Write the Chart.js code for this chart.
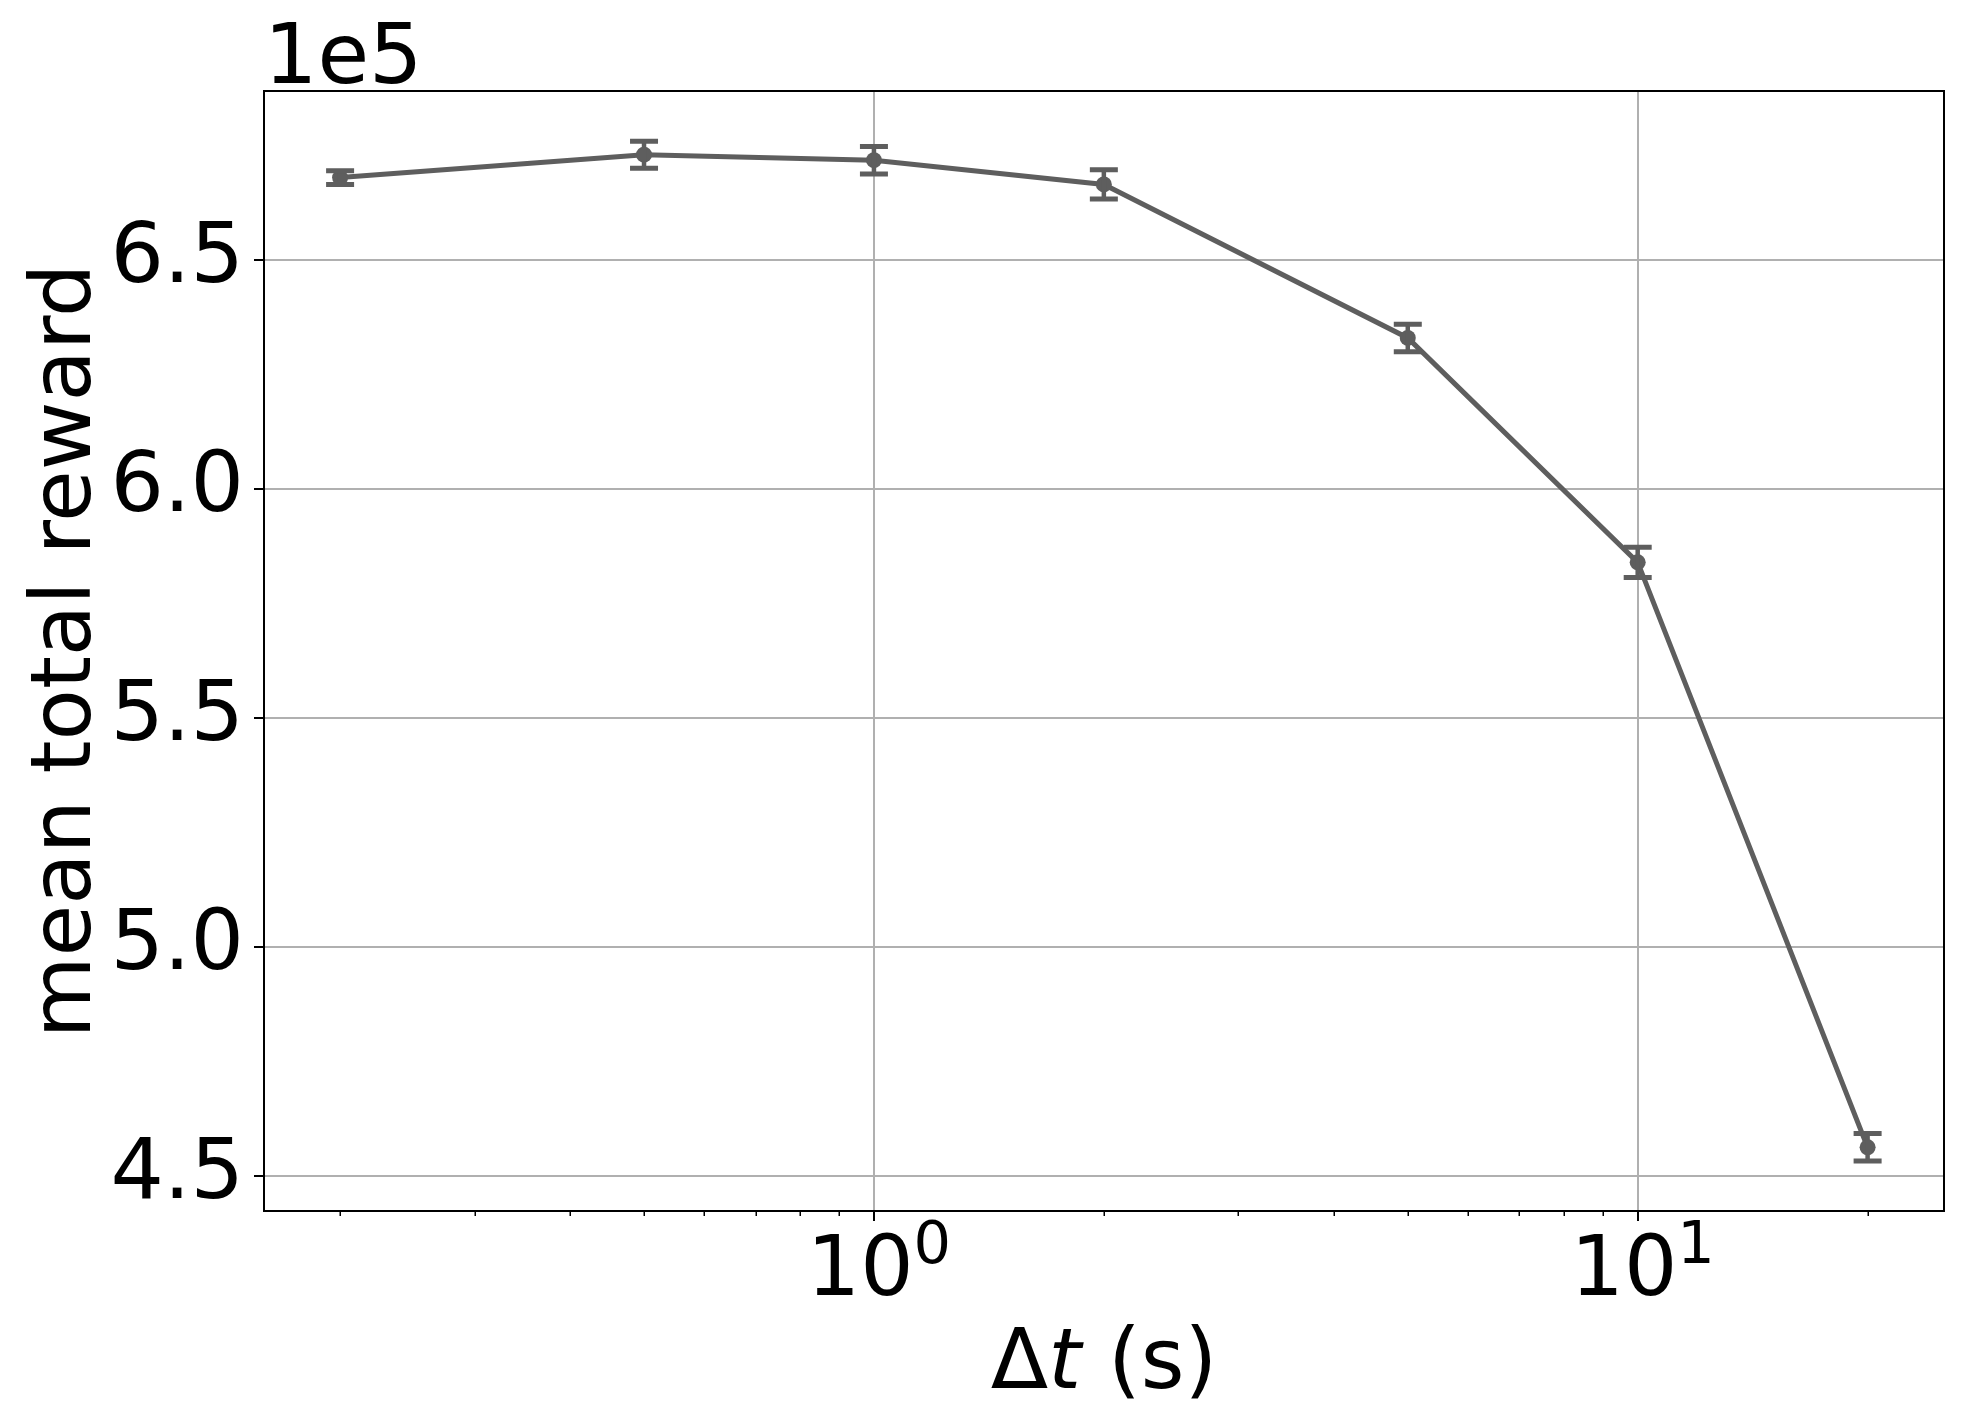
<!DOCTYPE html>
<html><head><meta charset="utf-8">
<script src="https://cdn.jsdelivr.net/npm/chart.js@4.4.1/dist/chart.umd.min.js"></script>
<style>html,body{margin:0;padding:0;background:#fff;} #wrap{width:1964px;height:1425px;position:relative;}</style>
</head><body><div id="wrap"><canvas id="c"></canvas></div>
<script>
// ---- data ----
const dtValues = [0.2, 0.5, 1, 2, 5, 10, 20];
const meanReward = [668000, 673000, 671800, 666500, 633000, 584000, 456300];
const rewardErr = [1500, 2950, 3000, 3200, 3000, 3300, 3000];
const yTickValues = [450000, 500000, 550000, 600000, 650000];
const xMajorTicks = [1, 10];
const xMajorBase = ['10', '10'];
const xMajorExp = ['0', '1'];
const xMinorTicks = [0.2,0.3,0.4,0.5,0.6,0.7,0.8,0.9,2,3,4,5,6,7,8,9,20];
const yOffsetText = '1e5';
const yTitle = 'mean total reward';
const xTitleParts = [['Δ', false], ['t', true], [' (s)', false]];

const FONT = 'DejaVu Sans';
const LINE = '#5e5e5e';
const FS = 84;

const textPlugin = {
  id: 'extras',
  afterDatasetsDraw(chart) {
    const {ctx, scales: {x, y}} = chart;
    ctx.save();
    ctx.strokeStyle = LINE;
    ctx.lineCap = 'butt';
    for (let i = 0; i < dtValues.length; i++) {
      const px = x.getPixelForValue(dtValues[i]);
      const t = y.getPixelForValue(meanReward[i] + rewardErr[i]);
      const b = y.getPixelForValue(meanReward[i] - rewardErr[i]);
      ctx.lineWidth = 4.5;
      ctx.beginPath();
      ctx.moveTo(px, t); ctx.lineTo(px, b);
      ctx.stroke();
      ctx.lineWidth = 5;
      ctx.beginPath();
      ctx.moveTo(px - 14, t); ctx.lineTo(px + 14, t);
      ctx.moveTo(px - 14, b); ctx.lineTo(px + 14, b);
      ctx.stroke();
    }
    ctx.restore();
  },
  afterDraw(chart) {
    const {ctx, chartArea: a, scales: {x}} = chart;
    ctx.save();
    // frame
    ctx.strokeStyle = '#000';
    ctx.lineWidth = 2;
    ctx.strokeRect(a.left, a.top, a.right - a.left, a.bottom - a.top);
    // minor ticks
    ctx.lineWidth = 1.5;
    ctx.beginPath();
    xMinorTicks.forEach(v => {
      const px = Math.round(x.getPixelForValue(v)) + 0.25;
      ctx.moveTo(px, a.bottom); ctx.lineTo(px, a.bottom + 5);
    });
    ctx.stroke();
    ctx.fillStyle = '#000';
    // x tick labels with superscripts
    xMajorTicks.forEach((v, i) => {
      const px = x.getPixelForValue(v);
      ctx.font = FS + 'px "' + FONT + '"';
      const w1 = ctx.measureText(xMajorBase[i]).width;
      ctx.font = Math.round(FS * 0.7) + 'px "' + FONT + '"';
      const w2 = ctx.measureText(xMajorExp[i]).width;
      const start = px - (w1 + w2) / 2 + 5;
      ctx.textAlign = 'left';
      ctx.textBaseline = 'alphabetic';
      ctx.font = FS + 'px "' + FONT + '"';
      ctx.fillText(xMajorBase[i], start, a.bottom + 84);
      ctx.font = Math.round(FS * 0.7) + 'px "' + FONT + '"';
      ctx.fillText(xMajorExp[i], start + w1, a.bottom + 52);
    });
    // x title
    let total = 0;
    const widths = xTitleParts.map(([s, it]) => {
      ctx.font = (it ? 'italic ' : '') + FS + 'px "' + FONT + '"';
      const w = ctx.measureText(s).width; total += w; return w;
    });
    let cx = (a.left + a.right) / 2 - total / 2;
    xTitleParts.forEach(([s, it], i) => {
      ctx.font = (it ? 'italic ' : '') + FS + 'px "' + FONT + '"';
      ctx.fillText(s, cx, a.bottom + 177);
      cx += widths[i];
    });
    // offset text
    ctx.font = FS + 'px "' + FONT + '"';
    ctx.fillText(yOffsetText, a.left, a.top - 8);
    // y title
    ctx.translate(90, (a.top + a.bottom) / 2);
    ctx.rotate(-Math.PI / 2);
    ctx.textAlign = 'center';
    ctx.fillText(yTitle, 0, 0);
    ctx.restore();
  }
};

new Chart(document.getElementById('c'), {
  type: 'line',
  data: {
    datasets: [{
      data: dtValues.map((v, i) => ({x: v, y: meanReward[i]})),
      borderColor: LINE,
      backgroundColor: LINE,
      borderWidth: 5,
      pointRadius: 8,
      pointBorderWidth: 0,
      pointBackgroundColor: LINE,
      tension: 0
    }]
  },
  options: {
    responsive: true,
    maintainAspectRatio: false,
    devicePixelRatio: 1,
    animation: false,
    layout: {padding: {top: 91, right: 20, left: 0, bottom: 0}},
    plugins: {legend: {display: false}, tooltip: {enabled: false}},
    scales: {
      x: {
        type: 'logarithmic',
        min: 0.159, max: 25.18,
        afterBuildTicks: s => { s.ticks = xMajorTicks.map(v => ({value: v, major: true})); },
        afterFit: s => { s.height = 214; },
        ticks: {display: false},
        grid: {color: '#b0b0b0', lineWidth: 2, tickColor: '#000', tickWidth: 2, tickLength: 10, drawTicks: true},
        border: {display: false}
      },
      y: {
        type: 'linear',
        min: 442400, max: 686900,
        afterBuildTicks: s => { s.ticks = yTickValues.map(v => ({value: v})); },
        afterFit: s => { s.width = 264; },
        ticks: {
          color: '#000', padding: 10,
          font: {family: FONT, size: FS},
          callback: v => (v / 1e5).toFixed(1)
        },
        grid: {color: '#b0b0b0', lineWidth: 2, tickColor: '#000', tickWidth: 2, tickLength: 10, drawTicks: true},
        border: {display: false}
      }
    }
  },
  plugins: [textPlugin]
});
</script></body></html>
